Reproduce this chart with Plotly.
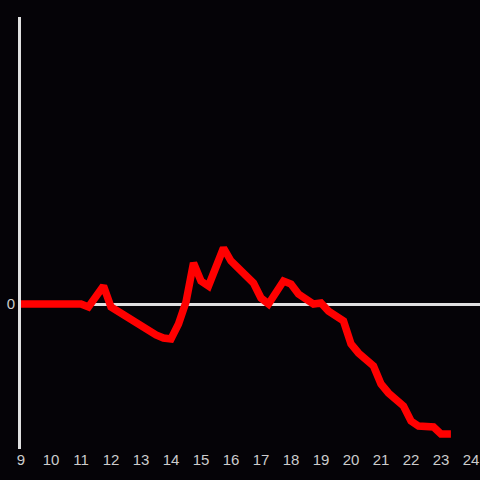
import plotly.graph_objects as go

hours = [9.0, 11.0, 11.25, 11.75, 12.0, 12.25, 13.0, 13.25, 13.5, 13.75, 14.0,
         14.25, 14.5, 14.75, 15.0, 15.25, 15.75, 16.0, 16.75, 17.0, 17.25,
         17.75, 18.0, 18.25, 18.75, 19.0, 19.25, 19.75, 20.0, 20.25, 20.75,
         21.0, 21.25, 21.75, 22.0, 22.25, 22.75, 23.0, 23.33]
values = [0, 0, -3, 18, -3, -8, -22, -27, -31, -34, -35,
          -20, 2, 41, 23, 18, 56, 43, 21, 6, 0,
          23, 20, 10, 0, 1, -7, -17, -40, -49, -62,
          -80, -89, -102, -117, -122, -123, -130, -130]
tick_hours = list(range(9, 25))

fig = go.Figure(go.Scatter(x=hours, y=values, mode="lines",
                           line=dict(color="#ff0000", width=7.5)))
fig.update_layout(
    width=480, height=480,
    margin=dict(l=21, r=0, t=17, b=31),
    paper_bgcolor="#050307", plot_bgcolor="#050307",
    showlegend=False,
    font=dict(family="Liberation Sans, Arial, sans-serif", size=15, color="#cccccc"),
)
fig.update_xaxes(range=[9, 24.3], tickvals=tick_hours, showgrid=False,
                 zeroline=False, showline=False, ticks="", tickfont=dict(size=15, color="#cccccc"))
fig.update_yaxes(range=[-145, 287], tickvals=[0], showgrid=False,
                 zeroline=True, zerolinecolor="#e0e0e0", zerolinewidth=3,
                 showline=True, linecolor="#e0e0e0", linewidth=3, ticks="",
                 tickfont=dict(size=15, color="#cccccc"))
fig.write_html("out.html", config={"displayModeBar": False},
               post_script="document.body.style.margin='0';document.body.style.background='#050307';")
